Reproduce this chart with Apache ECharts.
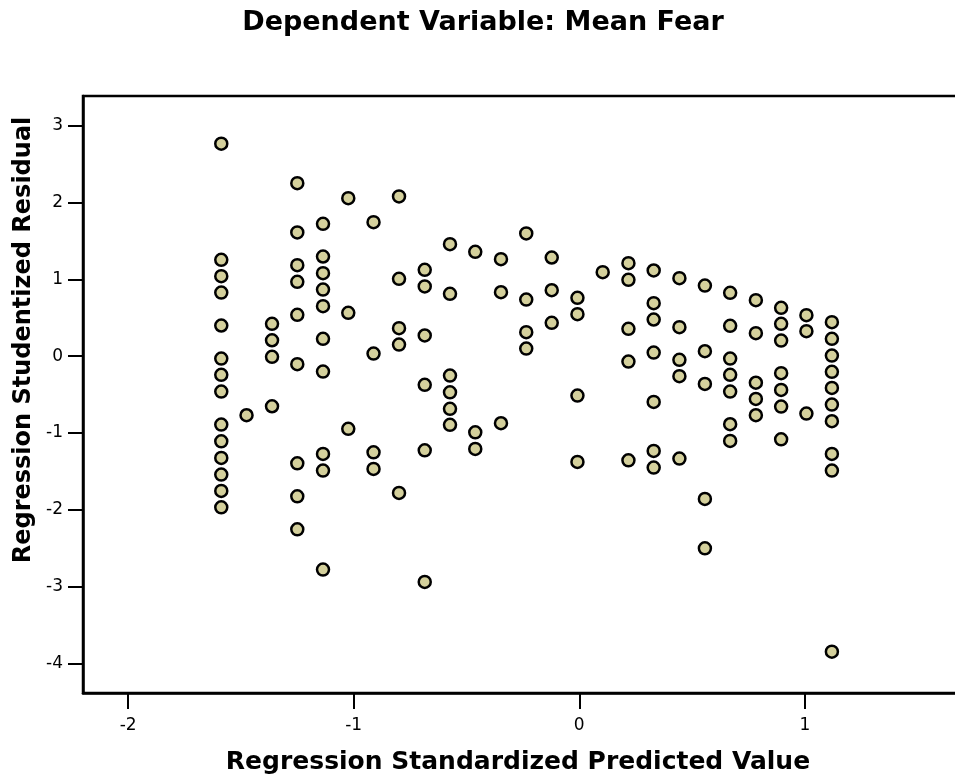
<!DOCTYPE html>
<html>
<head>
<meta charset="utf-8">
<script src="https://cdn.jsdelivr.net/npm/echarts@6/dist/echarts.min.js"></script>
<style>
  html, body { margin: 0; padding: 0; background: #fff; }
  #chart { width: 955px; height: 783px; }
</style>
</head>
<body>
<div id="chart"></div>
<script>
// predicted values come in discrete columns; each column has its residuals
const columnX = [
  -1.587, -1.475, -1.362, -1.250, -1.136, -1.024, -0.912, -0.799, -0.685,
  -0.573, -0.461, -0.347, -0.235, -0.122, -0.008, 0.104, 0.218, 0.330,
  0.444, 0.557, 0.669, 0.783, 0.895, 1.007, 1.120
];
const columnResiduals = [
  [2.766, 1.255, 1.042, 0.829, 0.40, -0.03, -0.242, -0.46, -0.889, -1.107, -1.323, -1.54, -1.753, -1.966],
  [-0.768],
  [0.422, 0.208, -0.008, -0.651],
  [2.253, 1.611, 1.185, 0.969, 0.539, -0.104, -1.393, -1.823, -2.253],
  [1.724, 1.298, 1.081, 0.868, 0.651, 0.227, -0.199, -1.271, -1.488, -2.777],
  [2.057, 0.565, -0.945],
  [1.745, 0.035, -1.25, -1.466],
  [2.08, 1.008, 0.365, 0.152, -1.779],
  [1.125, 0.908, 0.27, -0.372, -1.224, -2.938],
  [1.458, 0.812, -0.251, -0.469, -0.685, -0.893],
  [1.359, -0.99, -1.206],
  [1.263, 0.833, -0.872],
  [1.598, 0.738, 0.313, 0.1],
  [1.285, 0.859, 0.435],
  [0.76, 0.547, -0.512, -1.375],
  [1.094],
  [1.211, 0.995, 0.357, -0.069, -1.354],
  [1.116, 0.69, 0.478, 0.048, -0.594, -1.232, -1.449],
  [1.016, 0.378, -0.047, -0.26, -1.332],
  [0.92, 0.065, -0.36, -1.857, -2.5],
  [0.825, 0.396, -0.03, -0.242, -0.46, -0.885, -1.102],
  [0.729, 0.3, -0.345, -0.555, -0.768],
  [0.63, 0.422, 0.204, -0.221, -0.438, -0.655, -1.081],
  [0.534, 0.326, -0.746],
  [0.443, 0.227, 0.009, -0.203, -0.412, -0.629, -0.846, -1.271, -1.488, -3.845]
];
const xTicks = [-2, -1, 0, 1];
const yTicks = [-4, -3, -2, -1, 0, 1, 2, 3];

const points = [];
columnX.forEach((x, i) => {
  columnResiduals[i].forEach(y => points.push([x, y]));
});

const FONT = '"DejaVu Sans", "Liberation Sans", Arial, sans-serif';

const chart = echarts.init(document.getElementById('chart'));
chart.setOption({
  backgroundColor: '#fff',
  animation: false,
  grid: {
    left: 83, top: 96, width: 891, height: 597,
    show: true, borderColor: '#000', borderWidth: 2.5,
    outerBoundsMode: 'none'
  },
  xAxis: {
    type: 'value',
    min: -2.2, max: 1.75,
    axisLine: { onZero: false, lineStyle: { color: '#000', width: 2.5 } },
    axisTick: { customValues: xTicks, length: 16, lineStyle: { color: '#000', width: 2 } },
    axisLabel: { customValues: xTicks, margin: 24, color: '#000', fontSize: 17, fontFamily: FONT },
    splitLine: { show: false }
  },
  yAxis: {
    type: 'value',
    min: -4.383, max: 3.387,
    axisLine: { onZero: false, lineStyle: { color: '#000', width: 2.5 } },
    axisTick: { customValues: yTicks, length: 15, lineStyle: { color: '#000', width: 2 } },
    axisLabel: { customValues: yTicks, margin: 20, color: '#000', fontSize: 17, fontFamily: FONT },
    splitLine: { show: false }
  },
  graphic: [
    {
      type: 'text', x: 483, y: 23,
      style: {
        text: 'Dependent Variable: Mean Fear', fill: '#000',
        font: 'bold 27px ' + FONT, textAlign: 'center', textVerticalAlign: 'middle',
        align: 'center', verticalAlign: 'middle'
      }
    },
    {
      type: 'text', x: 518, y: 762,
      style: {
        text: 'Regression Standardized Predicted Value', fill: '#000',
        font: 'bold 25px ' + FONT, textAlign: 'center', textVerticalAlign: 'middle',
        align: 'center', verticalAlign: 'middle'
      }
    },
    {
      type: 'text', x: 24, y: 340, rotation: Math.PI / 2,
      style: {
        text: 'Regression Studentized Residual', fill: '#000',
        font: 'bold 24px ' + FONT, textAlign: 'center', textVerticalAlign: 'middle',
        align: 'center', verticalAlign: 'middle'
      }
    }
  ],
  series: [{
    type: 'scatter',
    data: points,
    symbol: 'circle',
    symbolSize: 12,
    itemStyle: { color: '#d4d09c', borderColor: '#000', borderWidth: 2.5, opacity: 1 }
  }]
});
</script>
</body>
</html>
